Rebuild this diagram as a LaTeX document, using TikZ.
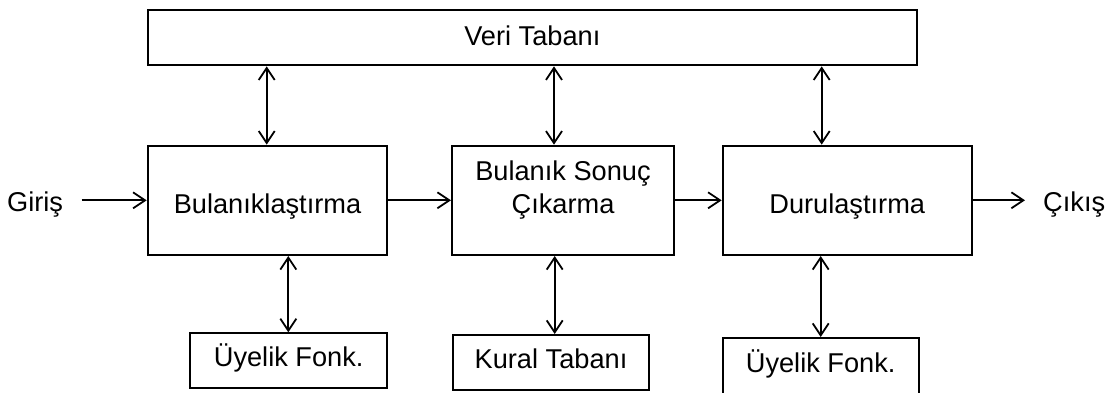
\documentclass[tikz,border=0pt]{standalone}
\usepackage{fontspec}
\setmainfont{Liberation Sans}
\usetikzlibrary{arrows.meta}
\tikzset{
  box/.style={draw, line width=2pt, rectangle, inner sep=0pt, text depth=0pt,
    font=\fontsize{27.2}{33}\selectfont},
  lbl/.style={inner sep=0pt, font=\fontsize{27.2}{33}\selectfont},
  tipb/.tip={Straight Barb[length=12pt,width=16pt,line width=1.8pt]},
  arr/.style={line width=1.8pt, -tipb},
  darr/.style={line width=1.8pt, tipb-tipb},
}
\begin{document}
\begin{tikzpicture}[x=1pt,y=-1pt]
\fill[white] (0,0) rectangle (1117,392);
\useasboundingbox (0,0) rectangle (1117,392);

\node[box, minimum width=769.3pt, minimum height=55.3pt, text height=14.6pt] (veri) at (532.3,37.7) {Veri Tabanı};
\node[box, minimum width=239.6pt, minimum height=109.3pt, text height=26pt] (bul) at (267.5,200.3) {Bulanıklaştırma};
\node[box, minimum width=222pt, minimum height=109.3pt, text height=26pt] (son) at (563,200.3)
  {\begin{tabular}[b]{@{}c@{}}Bulanık Sonuç\\Çıkarma\end{tabular}};
\node[box, minimum width=249pt, minimum height=109.3pt, text height=26pt] (dur) at (847.2,200.3) {Durulaştırma};

\node[box, minimum width=197.3pt, minimum height=55pt, text height=11.8pt] (u1) at (288.7,360.8) {Üyelik Fonk.\hspace{14pt}};
\node[box, minimum width=196.6pt, minimum height=55pt, text height=11.6pt] (kural) at (551,362.5) {Kural Tabanı\hspace{14pt}};
\node[box, minimum width=196pt, minimum height=56pt, text height=13.4pt] (u2) at (820.7,366) {Üyelik Fonk.\hspace{8pt}};

\node[lbl, anchor=base east] (giris) at (63.3,211.5) {Giriş};
\node[lbl, anchor=base west] (cikis) at (1043,211.5) {Çıkış};

\coordinate (a1) at (266.7,0);
\coordinate (a2) at (554,0);
\coordinate (a3) at (821.7,0);
\coordinate (b1) at (288.3,0);
\coordinate (b2) at (554.7,0);
\coordinate (b3) at (820.7,0);

\draw[darr] (a1 |- veri.south) -- (a1 |- bul.north);
\draw[darr] (a2 |- veri.south) -- (a2 |- son.north);
\draw[darr] (a3 |- veri.south) -- (a3 |- dur.north);
\draw[darr] (b1 |- bul.south) -- (b1 |- u1.north);
\draw[darr] (b2 |- son.south) -- (b2 |- kural.north);
\draw[darr] (b3 |- dur.south) -- (b3 |- u2.north);

\draw[arr, shorten <=18.4pt] (giris.east |- bul.west) -- (bul.west);
\draw[arr] (bul.east) -- (son.west);
\draw[arr] (son.east) -- (dur.west);
\draw[arr, shorten >=18pt] (dur.east) -- (dur.east -| cikis.west);
\end{tikzpicture}
\end{document}
